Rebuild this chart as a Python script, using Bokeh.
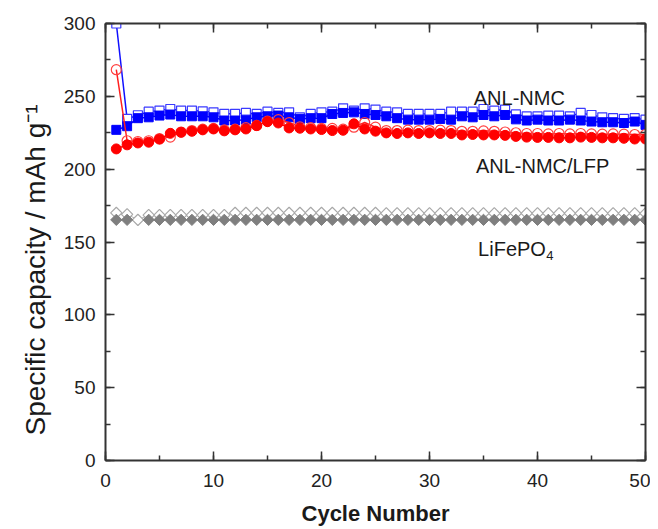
import math
from bokeh.plotting import figure
from bokeh.models import Range1d, LinearAxis, Label, SingleIntervalTicker, Title
from bokeh.embed import file_html
from bokeh.resources import INLINE

nan = float("nan")
cycles = list(range(1, 51))

# ANL-NMC (blue): filled = discharge, open = charge
nmc_filled = [227.0, 229.5, 235.0, 235.6, 236.8, 237.5, 236.3, 236.3, 236.3, 235.6,
              233.4, 233.4, 234.0, 235.6, 236.3, 236.8, 235.6, 234.5, 235.0, 235.0,
              237.9, 238.6, 239.0, 237.9, 237.2, 236.3, 235.0, 234.0, 234.0, 234.0,
              234.5, 234.0, 236.3, 235.6, 237.2, 236.3, 237.2, 234.2, 233.4, 234.0,
              233.4, 233.4, 234.0, 233.4, 232.7, 232.2, 232.2, 231.7, 232.7, 230.4]
nmc_open = [300.0, 234.5, 237.0, 239.5, 240.2, 241.3, 240.2, 240.2, 239.7, 239.0,
            238.0, 238.0, 238.6, 237.9, 239.5, 238.6, 239.0, 235.6, 237.9, 239.0,
            239.5, 241.8, 240.2, 241.8, 240.9, 239.5, 239.0, 237.9, 237.9, 237.9,
            237.9, 239.5, 239.5, 239.5, 241.3, 240.2, 240.9, 237.6, 236.3, 236.3,
            236.8, 236.8, 236.3, 238.6, 237.2, 235.6, 235.0, 234.5, 235.0, 234.0]

# ANL-NMC/LFP (red)
blend_filled = [213.9, 216.7, 218.0, 218.5, 220.6, 224.6, 225.3, 226.0, 227.0, 227.6,
                226.3, 227.0, 227.6, 229.9, 232.6, 231.7, 228.3, 228.1, 227.6, 227.2,
                226.5, 226.7, 231.1, 227.6, 226.1, 224.9, 224.5, 224.9, 224.5, 224.9,
                224.5, 224.5, 223.5, 223.8, 223.5, 223.5, 223.2, 222.5, 222.0, 221.8,
                221.8, 221.5, 221.5, 222.0, 221.8, 221.5, 221.5, 221.2, 220.7, 220.7]
blend_open = [268.3, 219.5, 219.0, 219.5, 221.0, 222.0, 225.5, 226.5, 227.5, 228.0,
              227.0, 227.5, 228.5, 230.0, 233.0, 234.0, 232.0, 229.0, 228.5, 228.0,
              228.0, 227.5, 228.8, 232.0, 228.8, 226.5, 226.5, 226.8, 226.5, 226.5,
              226.8, 226.5, 226.0, 226.0, 226.3, 226.0, 225.5, 225.0, 224.5, 224.5,
              224.2, 224.5, 224.2, 224.5, 224.2, 224.0, 224.2, 224.0, 223.8, 223.8]

# LiFePO4 (grey)
lfp_filled = [165.2, 165.2, nan, 165.2, 165.2, 165.2, 165.2, 165.2, 165.2, 165.2,
              165.2, 165.2, 165.2, 165.2, 165.2, 165.2, 165.2, 165.2, 165.2, 165.2,
              165.2, 165.2, 165.2, 165.2, 165.2, 165.2, 165.2, 165.2, 165.2, 165.2,
              165.2, 165.2, 165.2, 165.2, 165.2, 165.2, 165.2, 165.2, 165.2, 165.2,
              165.2, 165.2, 165.2, 165.2, 165.2, 165.2, 165.2, 165.2, 165.2, 165.2]
lfp_open = [170.0, 169.0, 165.2, 168.5, 168.5, 168.5, 168.5, 168.5, 168.5, 168.5,
            168.5, 170.0, 170.0, 170.0, 170.0, 170.0, 170.0, 170.0, 170.0, 170.0,
            170.0, 170.0, 170.0, 170.0, 170.0, 169.7, 169.7, 169.7, 169.7, 169.7,
            169.7, 169.7, 169.7, 169.7, 169.7, 169.7, 169.7, 169.7, 169.7, 169.7,
            169.7, 169.7, 169.7, 169.7, 169.7, 169.7, 169.7, 169.7, 169.7, 169.7]

x_ticks_interval = 10
y_ticks_interval = 50
x_title = "Cycle Number"
y_title = "Specific capacity / mAh g\u207b\u00b9"

FONT = "Liberation Sans"
AX = "#333333"

p = figure(width=650, height=529, output_backend="svg", toolbar_location=None,
           x_range=Range1d(0, 50), y_range=Range1d(0, 300),
           x_axis_location=None, y_axis_location=None,
           min_border_left=105, min_border_right=5, min_border_top=23, min_border_bottom=69)
p.outline_line_color = None
p.xgrid.visible = False
p.ygrid.visible = False
p.background_fill_color = "white"
p.border_fill_color = "white"


def make_axis(interval, show_labels, standoff):
    ax = LinearAxis(ticker=SingleIntervalTicker(interval=interval, num_minor_ticks=2))
    ax.axis_line_color = AX
    ax.axis_line_width = 2
    ax.major_tick_in = 9
    ax.major_tick_out = 0
    ax.minor_tick_in = 5
    ax.minor_tick_out = 0
    ax.major_tick_line_color = AX
    ax.major_tick_line_width = 1.5
    ax.minor_tick_line_color = AX
    ax.minor_tick_line_width = 1.5
    ax.major_label_text_font = FONT
    if show_labels:
        ax.major_label_text_color = "#222222"
        ax.major_label_text_font_size = "19px"
        ax.major_label_standoff = standoff
    else:
        ax.major_label_text_color = None
        ax.major_label_text_font_size = "1px"
        ax.major_label_standoff = 0
    return ax


xb = make_axis(x_ticks_interval, True, 13)
xb.axis_label = x_title
xb.axis_label_text_font = FONT
xb.axis_label_text_font_size = "22px"
xb.axis_label_text_font_style = "bold"
xb.axis_label_text_color = "#1a1a1a"
xb.axis_label_text_line_height = 0.8
xb.axis_label_standoff = 11
p.add_layout(xb, "below")
p.add_layout(make_axis(y_ticks_interval, True, 10), "left")
p.add_layout(make_axis(x_ticks_interval, False, 0), "above")
p.add_layout(make_axis(y_ticks_interval, False, 0), "right")

p.add_layout(Title(text=y_title, align="left", offset=25, standoff=20,
                   text_font=FONT, text_font_size="28px", text_font_style="normal",
                   text_color="#1a1a1a"), "left")

# LiFePO4
p.line(cycles, lfp_open, line_color="#b0b0b0", line_width=1)
p.scatter(cycles, lfp_open, marker="square", angle=math.pi / 4, size=8,
          fill_color="white", line_color="#a8a8a8", line_width=1.2)
p.line(cycles, lfp_filled, line_color="#808080", line_width=1.5)
p.scatter(cycles, lfp_filled, marker="square", angle=math.pi / 4, size=8,
          fill_color="#7f7f7f", line_color="#7f7f7f")

# ANL-NMC
p.line(cycles, nmc_open, line_color="#1010ff", line_width=1.5)
p.scatter(cycles, nmc_open, marker="square", size=9, fill_color="white",
          line_color="#3a3aff", line_width=1.2)
p.line(cycles, nmc_filled, line_color="#0000ff", line_width=1.5)
p.scatter(cycles, nmc_filled, marker="square", size=9, fill_color="#0000ff",
          line_color="#0000ff")

# ANL-NMC/LFP
p.line(cycles, blend_open, line_color="#ff2020", line_width=1.5)
p.scatter(cycles, blend_open, marker="circle", size=10, fill_color=None,
          line_color="#ff4040", line_width=1.2)
p.line(cycles, blend_filled, line_color="#ff0000", line_width=1.5)
p.scatter(cycles, blend_filled, marker="circle", size=10, fill_color="#ff0000",
          line_color="#ff0000")

# Series labels
txt = dict(text_font=FONT, text_color="#1a1a1a", text_baseline="alphabetic")
p.add_layout(Label(x=34.1, y=249.1, text="ANL-NMC", text_font_size="20px", **txt))
p.add_layout(Label(x=34.3, y=202.5, text="ANL-NMC/LFP", text_font_size="20px", **txt))
p.add_layout(Label(x=34.5, y=145.5, text="LiFePO", text_font_size="20px", **txt))
p.add_layout(Label(x=40.8, y=140.7, text="4", text_font_size="13px", **txt))

open("out.html", "w").write(file_html(p, INLINE))
